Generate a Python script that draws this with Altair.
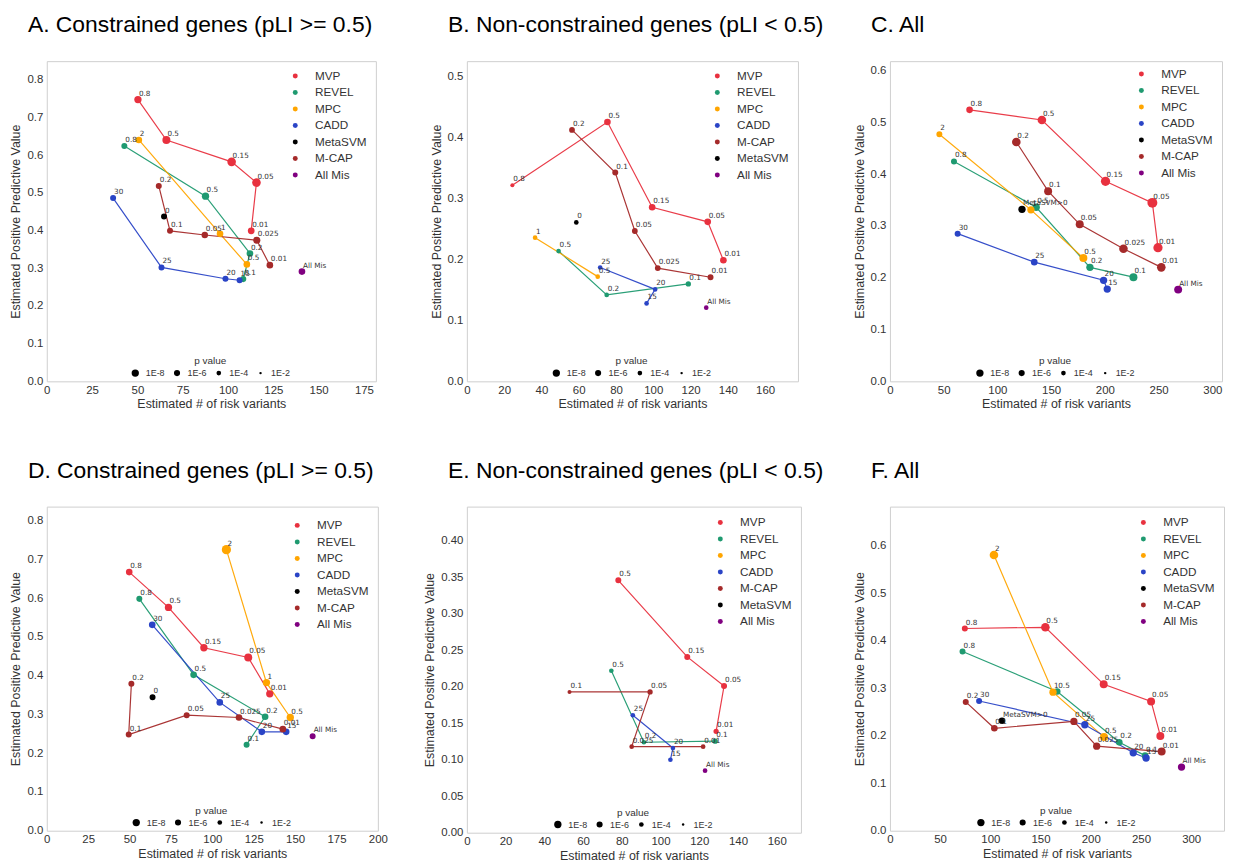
import altair as alt
import pandas as pd

ORDER_1 = ["MVP", "REVEL", "MPC", "CADD", "MetaSVM", "M-CAP", "All Mis"]
ORDER_2 = ["MVP", "REVEL", "MPC", "CADD", "M-CAP", "MetaSVM", "All Mis"]
PALETTE = {"MVP": "#e8313f", "REVEL": "#1f9a70", "MPC": "#ffa500", "CADD": "#2a44c6",
           "MetaSVM": "#000000", "M-CAP": "#a52a2a", "All Mis": "#800080"}

# ---------- Panel A: constrained genes (pLI >= 0.5) ----------
A_method = ["MVP", "MVP", "MVP", "MVP", "MVP", "REVEL", "REVEL", "REVEL", "REVEL",
            "MPC", "MPC", "MPC", "CADD", "CADD", "CADD", "CADD", "MetaSVM",
            "M-CAP", "M-CAP", "M-CAP", "M-CAP", "M-CAP", "All Mis"]
A_label = ["0.8", "0.5", "0.15", "0.05", "0.01", "0.8", "0.5", "0.2", "0.1",
           "2", "1", "0.5", "30", "25", "20", "15", "0",
           "0.2", "0.1", "0.05", "0.025", "0.01", "All Mis"]
A_x = [50.3, 66.0, 102.0, 115.7, 112.8, 42.8, 87.6, 112.1, 108.4,
       50.8, 95.6, 110.4, 36.6, 63.3, 98.6, 106.4, 64.7,
       61.8, 68.0, 87.2, 115.9, 123.1, 140.8]
A_y = [0.747, 0.640, 0.582, 0.527, 0.399, 0.624, 0.491, 0.339, 0.271,
       0.640, 0.391, 0.310, 0.486, 0.302, 0.272, 0.268, 0.437,
       0.518, 0.399, 0.388, 0.374, 0.308, 0.291]
A_logp = [8.0, 9.3, 10.6, 10.6, 7.0, 5.8, 8.0, 6.8, 6.0,
          6.8, 6.8, 6.8, 5.8, 5.8, 5.8, 5.8, 5.8,
          5.8, 5.8, 6.5, 7.5, 6.8, 6.8]

# ---------- Panel B: non-constrained genes (pLI < 0.5) ----------
B_method = ["MVP", "MVP", "MVP", "MVP", "MVP", "REVEL", "REVEL", "REVEL",
            "MPC", "MPC", "CADD", "CADD", "CADD",
            "M-CAP", "M-CAP", "M-CAP", "M-CAP", "M-CAP", "MetaSVM", "All Mis"]
B_label = ["0.8", "0.5", "0.15", "0.05", "0.01", "0.5", "0.2", "0.1",
           "1", "0.5", "25", "20", "15",
           "0.2", "0.1", "0.05", "0.025", "0.01", "0", "All Mis"]
B_x = [24.4, 75.4, 99.4, 129.2, 137.6, 49.2, 75.0, 118.8,
       36.6, 70.2, 71.5, 101.0, 96.4,
       56.4, 79.6, 90.1, 102.4, 130.7, 58.7, 128.4]
B_y = [0.322, 0.426, 0.286, 0.262, 0.199, 0.214, 0.142, 0.160,
       0.236, 0.172, 0.187, 0.151, 0.128,
       0.413, 0.343, 0.247, 0.186, 0.171, 0.261, 0.121]
B_logp = [3.3, 6.8, 6.8, 6.8, 6.8, 4.0, 4.0, 4.8,
          4.0, 4.0, 4.0, 4.0, 4.0,
          5.5, 5.8, 5.5, 5.5, 5.8, 4.0, 4.0]

# ---------- Panel C: all genes ----------
C_method = ["MVP", "MVP", "MVP", "MVP", "MVP", "REVEL", "REVEL", "REVEL", "REVEL",
            "MPC", "MPC", "MPC", "CADD", "CADD", "CADD", "CADD", "MetaSVM",
            "M-CAP", "M-CAP", "M-CAP", "M-CAP", "M-CAP", "All Mis"]
C_label = ["0.8", "0.5", "0.15", "0.05", "0.01", "0.8", "0.5", "0.2", "0.1",
           "2", "1", "0.5", "30", "25", "20", "15", "MetaSVM>0",
           "0.2", "0.1", "0.05", "0.025", "0.01", "All Mis"]
C_x = [74.1, 141.4, 200.6, 244.2, 249.4, 59.6, 136.1, 186.1, 226.6,
       46.0, 131.2, 180.0, 63.0, 134.3, 198.8, 202.2, 122.9,
       117.6, 147.2, 176.6, 217.3, 252.5, 268.2]
C_y = [0.524, 0.5045, 0.386, 0.3445, 0.258, 0.4245, 0.336, 0.220, 0.201,
       0.477, 0.331, 0.238, 0.285, 0.230, 0.195, 0.178, 0.332,
       0.462, 0.367, 0.303, 0.256, 0.220, 0.177]
C_logp = [6.8, 10.6, 12.0, 13.7, 12.0, 5.8, 8.0, 8.0, 9.3,
          5.8, 8.0, 9.3, 5.8, 6.8, 8.0, 8.0, 8.0,
          10.6, 9.3, 9.3, 10.6, 10.6, 9.3]

# ---------- Panel D: constrained genes (pLI >= 0.5) ----------
D_method = C_method
D_label = ["0.8", "0.5", "0.15", "0.05", "0.01", "0.8", "0.5", "0.2", "0.1",
           "2", "1", "0.5", "30", "25", "20", "15", "0",
           "0.2", "0.1", "0.05", "0.025", "0.01", "All Mis"]
D_x = [49.8, 73.5, 94.9, 121.7, 134.7, 55.9, 88.7, 131.9, 120.7,
       108.5, 132.7, 147.1, 63.7, 104.5, 129.9, 144.6, 63.9,
       51.1, 49.5, 84.5, 116.1, 142.6, 160.6]
D_y = [0.667, 0.576, 0.472, 0.447, 0.353, 0.598, 0.402, 0.294, 0.222,
       0.725, 0.382, 0.292, 0.531, 0.331, 0.255, 0.255, 0.344,
       0.379, 0.248, 0.298, 0.292, 0.262, 0.244]
D_logp = [6.8, 8.0, 8.0, 9.3, 8.0, 5.8, 6.8, 6.8, 5.8,
          12.0, 8.0, 8.0, 6.8, 6.8, 6.8, 6.8, 5.8,
          5.8, 5.8, 5.8, 6.8, 6.8, 5.8]

# ---------- Panel E: non-constrained genes (pLI < 0.5) ----------
E_method = ["MVP", "MVP", "MVP", "MVP", "REVEL", "REVEL", "REVEL",
            "CADD", "CADD", "CADD", "M-CAP", "M-CAP", "M-CAP", "M-CAP", "All Mis"]
E_label = ["0.5", "0.15", "0.05", "0.01", "0.5", "0.2", "0.1",
           "25", "20", "15", "0.1", "0.05", "0.025", "0.01", "All Mis"]
E_x = [78.2, 113.8, 132.8, 128.7, 74.6, 91.4, 128.2,
       85.7, 106.4, 105.1, 53.0, 94.6, 85.1, 122.0, 123.0]
E_y = [0.346, 0.241, 0.201, 0.139, 0.222, 0.124, 0.1255,
       0.161, 0.116, 0.100, 0.193, 0.193, 0.118, 0.118, 0.085]
E_logp = [5.8, 5.8, 5.8, 4.8, 4.0, 4.0, 4.8,
          4.0, 4.0, 4.0, 3.3, 4.8, 4.0, 4.0, 4.0]

# ---------- Panel F: all genes ----------
F_method = C_method
F_label = C_label
F_x = [74.6, 154.8, 212.9, 260.1, 269.3, 72.3, 166.6, 228.4, 254.1,
       103.6, 162.4, 213.2, 88.8, 194.1, 242.3, 255.1, 111.6,
       75.5, 104.0, 183.2, 205.9, 270.6, 290.4]
F_y = [0.4255, 0.428, 0.308, 0.272, 0.1995, 0.377, 0.293, 0.186, 0.158,
       0.580, 0.2915, 0.197, 0.273, 0.223, 0.164, 0.153, 0.2315,
       0.271, 0.2155, 0.230, 0.178, 0.1666, 0.134]
F_logp = [5.8, 10.6, 9.3, 9.3, 9.3, 5.8, 6.8, 6.8, 6.8,
          10.6, 8.0, 9.3, 5.8, 8.0, 8.0, 8.0, 6.8,
          5.8, 6.8, 8.0, 8.0, 9.3, 8.0]

PVAL_LEVELS = [8, 6, 4, 2]

X_TITLE = "Estimated # of risk variants"
Y_TITLE = "Estimated Positive Predictive Value"


def panel(title, order, methods, labels, xs, ys, logps, xmax, ymax, xticks, yticks, yfmt,
          width, height, leg_y):
    df = pd.DataFrame({"method": methods, "label": labels, "x": xs, "y": ys, "logp": logps})
    df["idx"] = list(range(len(df)))
    colors = [PALETTE[m] for m in order]
    xenc = alt.X("x:Q", scale=alt.Scale(domain=[0, xmax], nice=False),
                 axis=alt.Axis(values=xticks, format="d", title=X_TITLE, labelPadding=3, titlePadding=2))
    yenc = alt.Y("y:Q", scale=alt.Scale(domain=[0, ymax], nice=False),
                 axis=alt.Axis(values=yticks, format=yfmt, title=Y_TITLE, labelPadding=4, titlePadding=4))
    base = alt.Chart(df)
    # line colours use their own scale (extra unused slot keeps its legend apart from the point legend)
    lines = base.mark_line(strokeWidth=1.2, opacity=0.95).encode(
        x=xenc, y=yenc,
        stroke=alt.Stroke("method:N",
                          scale=alt.Scale(domain=order + ["(line)"], range=colors + ["#ffffff"]),
                          legend=None),
        detail="method:N",
        order=alt.Order("idx:Q"))
    points = base.mark_circle(opacity=1).encode(
        x=xenc, y=yenc,
        color=alt.Color("method:N", scale=alt.Scale(domain=order, range=colors),
                        legend=alt.Legend(orient="none", title="",
                                          legendX=width - 87, legendY=leg_y,
                                          direction="vertical",
                                          labelFontSize=11.8, labelColor="#333333",
                                          symbolType="circle", symbolSize=25,
                                          symbolStrokeWidth=0, rowPadding=3.6,
                                          labelOffset=14, padding=0)),
        size=alt.Size("logp:Q", scale=alt.Scale(domain=[2, 8], range=[6, 54], zero=False),
                      legend=alt.Legend(title="p value", orient="none",
                                        legendX=width / 2 - 81, legendY=height - 25,
                                        direction="horizontal", values=PVAL_LEVELS,
                                        labelExpr="'1E-' + datum.value",
                                        titleAnchor="middle", titleFontSize=10,
                                        titleFontWeight="normal", titleColor="#333333",
                                        labelFontSize=9, labelColor="#333333",
                                        symbolFillColor="#000000", symbolStrokeWidth=0,
                                        symbolType="circle", columnPadding=7,
                                        labelOffset=6, titlePadding=2, padding=0)))
    texts = base.mark_text(align="left", baseline="alphabetic", dx=1, dy=-4,
                           fontSize=7.3, font="DejaVu Sans", color="#333333").encode(
        x=xenc, y=yenc, text="label:N")
    return alt.layer(lines, points, texts).properties(
        width=width, height=height,
        title=alt.TitleParams(title, anchor="start", frame="group", dx=-19, fontSize=23,
                              fontWeight="normal", color="#000000",
                              font="Liberation Sans", baseline="alphabetic", offset=6))


ticks_25_175 = [0, 25, 50, 75, 100, 125, 150, 175]
ticks_25_200 = [0, 25, 50, 75, 100, 125, 150, 175, 200]
ticks_20_160 = [0, 20, 40, 60, 80, 100, 120, 140, 160]
ticks_50_300 = [0, 50, 100, 150, 200, 250, 300]
y_08 = [0, 0.1, 0.2, 0.3, 0.4, 0.5, 0.6, 0.7, 0.8]
y_05 = [0, 0.1, 0.2, 0.3, 0.4, 0.5]
y_06 = [0, 0.1, 0.2, 0.3, 0.4, 0.5, 0.6]
y_040 = [0, 0.05, 0.1, 0.15, 0.2, 0.25, 0.3, 0.35, 0.4]

pA = panel("A. Constrained genes (pLI >= 0.5)", ORDER_1, A_method, A_label, A_x, A_y, A_logp,
           181.6, 0.849, ticks_25_175, y_08, ".1f", 331, 322, 9)
pB = panel("B. Non-constrained genes (pLI < 0.5)", ORDER_2, B_method, B_label, B_x, B_y, B_logp,
           177.6, 0.526, ticks_20_160, y_05, ".1f", 333, 322, 9)
pC = panel("C. All", ORDER_1, C_method, C_label, C_x, C_y, C_logp,
           309, 0.618, ticks_50_300, y_06, ".1f", 334, 322, 7)
pD = panel("D. Constrained genes (pLI >= 0.5)", ORDER_1, D_method, D_label, D_x, D_y, D_logp,
           200, 0.836, ticks_25_200, y_08, ".1f", 333, 326, 13)
pE = panel("E. Non-constrained genes (pLI < 0.5)", ORDER_2, E_method, E_label, E_x, E_y, E_logp,
           172.5, 0.447, ticks_20_160, y_040, ".2f", 336, 328, 10)
pF = panel("F. All", ORDER_1, F_method, F_label, F_x, F_y, F_logp,
           332.7, 0.682, ticks_50_300, y_06, ".1f", 336, 326, 10)

res = dict(x="independent", y="independent", color="independent", size="independent",
           stroke="independent")
chart = alt.concat(pA, pB, pC, pD, pE, pF, columns=3, bounds="flush",
                   spacing={"row": 126, "column": 89.5}).resolve_scale(**res).resolve_legend(
    color="independent", size="independent").properties(
    padding={"left": 1, "top": 3, "right": 0, "bottom": 0}
).configure(font="Liberation Sans").configure_view(
    stroke="#cfcfcf", strokeWidth=1
).configure_axis(
    ticks=False, domain=False, grid=False, labelFont="Liberation Sans", labelFontSize=11.5,
    labelColor="#333333", titleFont="Liberation Sans", titleFontSize=12.5,
    titleFontWeight="normal", titleColor="#333333", labelFlush=False, labelOverlap=False,
    labelBound=False
).configure_legend(labelFont="Liberation Sans", titleFont="Liberation Sans")

chart.save("out.html", embed_options={"renderer": "svg", "actions": False})
